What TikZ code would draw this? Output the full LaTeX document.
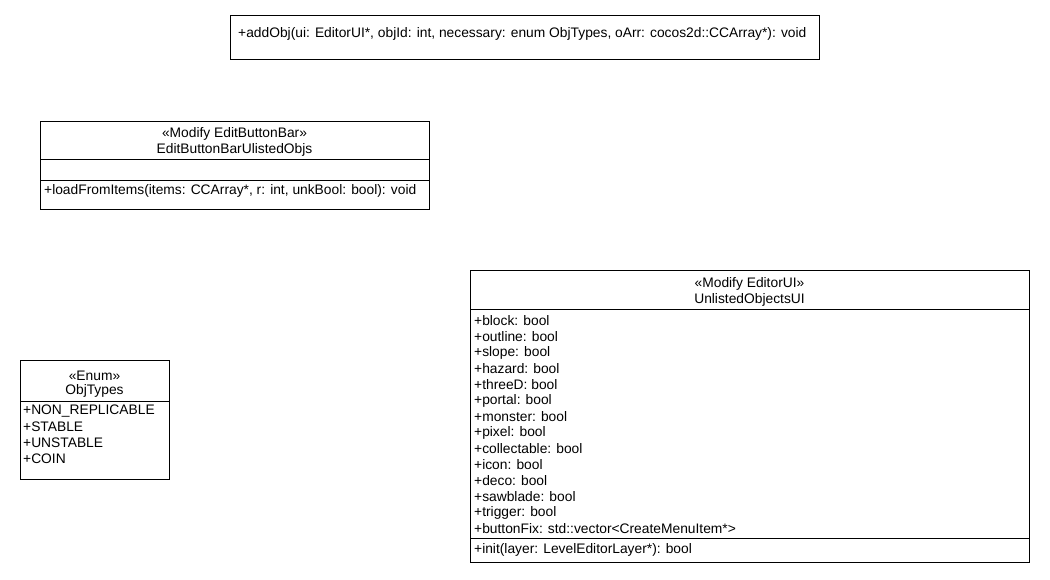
\documentclass[tikz,border=0pt]{standalone}
\usepackage{fontspec}
\setmainfont{Liberation Sans}
\begin{document}
\begin{tikzpicture}[x=1pt,y=-1pt,
  box/.style={draw,line width=0.8pt,anchor=north west,inner sep=0pt,outer sep=0pt},
  txt/.style={anchor=west,inner sep=0pt,font=\fontsize{13.8}{15}\selectfont},
  ctxt/.style={anchor=center,inner sep=0pt,font=\fontsize{13.8}{15}\selectfont},
  sep/.style={line width=0.8pt}]
\useasboundingbox (0,0) rectangle (1050,580);
% top box
\node[box,minimum width=589pt,minimum height=44pt] (top) at (230,15) {};
\node[txt] (topm) at (238,34) {+addObj(ui: EditorUI*, objId: int, necessary: enum ObjTypes, oArr: cocos2d::CCArray*): void};
% EditButtonBar
\node[box,minimum width=389pt,minimum height=88pt] (ebb) at (40,121) {};
\node[ctxt] (ebbs) at (234.5,134) {«Modify EditButtonBar»};
\node[ctxt] (ebbn) at (234.5,150) {EditButtonBarUlistedObjs};
\draw[sep] (40,159) -- (429,159);
\draw[sep] (40,180) -- (429,180);
\node[txt] (ebbm) at (44,191) {+loadFromItems(items: CCArray*, r: int, unkBool: bool): void};
% ObjTypes
\node[box,minimum width=149pt,minimum height=119pt] (ot) at (20,360) {};
\node[ctxt] (ots) at (94.5,376) {«Enum»};
\node[ctxt] (otn) at (94.5,391) {ObjTypes};
\draw[sep] (20,401) -- (169,401);
\node[txt] (ot1) at (23,411) {+NON\_REPLICABLE};
\node[txt] (ot2) at (23,427) {+STABLE};
\node[txt] (ot3) at (23,443) {+UNSTABLE};
\node[txt] (ot4) at (23,459) {+COIN};
% UnlistedObjectsUI
\node[box,minimum width=559pt,minimum height=292pt] (uo) at (470,270) {};
\node[ctxt] (uos) at (749.5,284) {«Modify EditorUI»};
\node[ctxt] (uon) at (749.5,300) {UnlistedObjectsUI};
\draw[sep] (470,309) -- (1029,309);
\node[txt] (a1) at (474,321) {+block: bool};
\node[txt] (a2) at (474,337) {+outline: bool};
\node[txt] (a3) at (474,353) {+slope: bool};
\node[txt] (a4) at (474,369) {+hazard: bool};
\node[txt] (a5) at (474,385) {+threeD: bool};
\node[txt] (a6) at (474,401) {+portal: bool};
\node[txt] (a7) at (474,417) {+monster: bool};
\node[txt] (a8) at (474,433) {+pixel: bool};
\node[txt] (a9) at (474,449) {+collectable: bool};
\node[txt] (a10) at (474,465) {+icon: bool};
\node[txt] (a11) at (474,481) {+deco: bool};
\node[txt] (a12) at (474,497) {+sawblade: bool};
\node[txt] (a13) at (474,513) {+trigger: bool};
\node[txt] (a14) at (474,529) {+buttonFix: std::vector<CreateMenuItem*>};
\draw[sep] (470,538) -- (1029,538);
\node[txt] (m1) at (474,550) {+init(layer: LevelEditorLayer*): bool};
\end{tikzpicture}
\end{document}
